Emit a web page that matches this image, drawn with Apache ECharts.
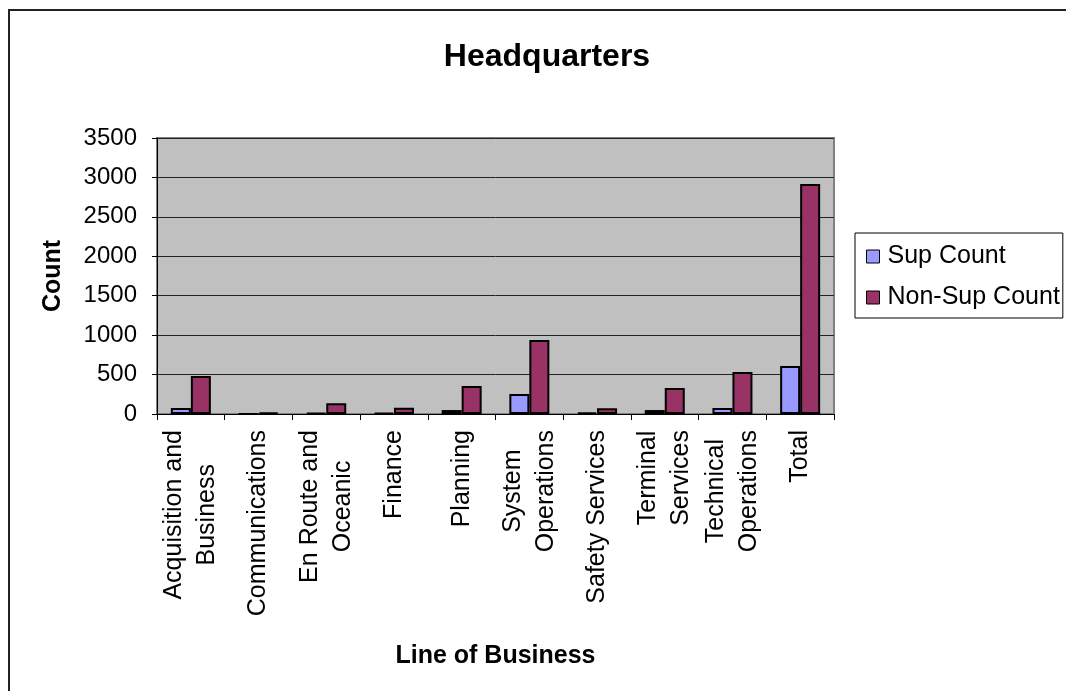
<!DOCTYPE html>
<html>
<head>
<meta charset="utf-8">
<script src="https://cdn.jsdelivr.net/npm/echarts@6/dist/echarts.min.js"></script>
<style>html,body{margin:0;padding:0;background:#fff;}#c{width:1066px;height:691px;}</style>
</head>
<body>
<div id="c"></div>
<script>
const categories = ["Acquisition and\nBusiness", "Communications", "En Route and\nOceanic", "Finance", "Planning", "System\nOperations", "Safety Services", "Terminal\nServices", "Technical\nOperations", "Total"];
const supCount = [76, 0, 15, 15, 50, 254, 20, 50, 76, 609];
const nonSupCount = [482, 20, 135, 80, 355, 938, 72, 330, 532, 2917];
const yTicks = [0, 500, 1000, 1500, 2000, 2500, 3000, 3500];

const FONT = '"Liberation Sans", Arial, sans-serif';
const chart = echarts.init(document.getElementById('c'), null, {renderer: 'canvas'});
chart.setOption({
  backgroundColor: '#fff',
  animation: false,
  graphic: [{
    type: 'rect', shape: {x: 9, y: 10, width: 1100, height: 720},
    style: {fill: 'none', stroke: '#222', lineWidth: 2}, z: -10
  }],
  title: {
    text: 'Headquarters', left: 542, top: 36, textAlign: 'center',
    textStyle: {fontFamily: FONT, fontWeight: 'bold', fontSize: 32, color: '#000'}
  },
  legend: {
    orient: 'vertical', left: 855, top: 233,
    padding: [11, 3, 8, 11], itemGap: 16, itemWidth: 13, itemHeight: 13,
    borderColor: '#000', borderWidth: 1, icon: 'rect',
    itemStyle: {borderColor: '#000', borderWidth: 1},
    textStyle: {fontFamily: FONT, fontSize: 25, color: '#000', padding: [0, 0, 0, 3]},
    data: ['Sup Count', 'Non-Sup Count']
  },
  grid: {
    left: 157, top: 138, right: 232, bottom: 277, containLabel: false,
    show: true, backgroundColor: '#c0c0c0', borderColor: '#808080', borderWidth: 2
  },
  xAxis: {
    type: 'category', data: categories,
    name: 'Line of Business', nameLocation: 'middle', nameGap: 230,
    nameTextStyle: {fontFamily: FONT, fontWeight: 'bold', fontSize: 25, color: '#000'},
    axisLine: {lineStyle: {color: '#000', width: 1}},
    axisTick: {show: true, length: 6, lineStyle: {color: '#000'}},
    axisLabel: {
      rotate: 90, margin: 16, interval: 0, color: '#000',
      fontFamily: FONT, fontSize: 25,
      formatter: v => v.split('\n').map(s => '{c|' + s + '}').join('\n'),
      rich: {c: {align: 'center', fontFamily: FONT, fontSize: 25, lineHeight: 33, color: '#000'}}
    }
  },
  yAxis: {
    type: 'value', min: yTicks[0], max: yTicks[yTicks.length - 1], interval: 500,
    name: 'Count', nameLocation: 'middle', nameGap: 91, nameRotate: 90,
    nameTextStyle: {fontFamily: FONT, fontWeight: 'bold', fontSize: 25, color: '#000'},
    axisLine: {show: true, lineStyle: {color: '#000', width: 1}},
    axisTick: {show: true, length: 5, lineStyle: {color: '#000'}},
    axisLabel: {margin: 20, color: '#000', fontFamily: FONT, fontSize: 24, formatter: v => String(v)},
    splitLine: {show: true, lineStyle: {color: '#222', width: 1}}
  },
  series: [
    {name: 'Sup Count', type: 'bar', data: supCount, barWidth: 20, barGap: '0%',
     itemStyle: {color: '#9999ff', borderColor: '#000', borderWidth: 2}},
    {name: 'Non-Sup Count', type: 'bar', data: nonSupCount, barWidth: 20, barGap: '0%',
     itemStyle: {color: '#993366', borderColor: '#000', borderWidth: 2}}
  ]
});
</script>
</body>
</html>
